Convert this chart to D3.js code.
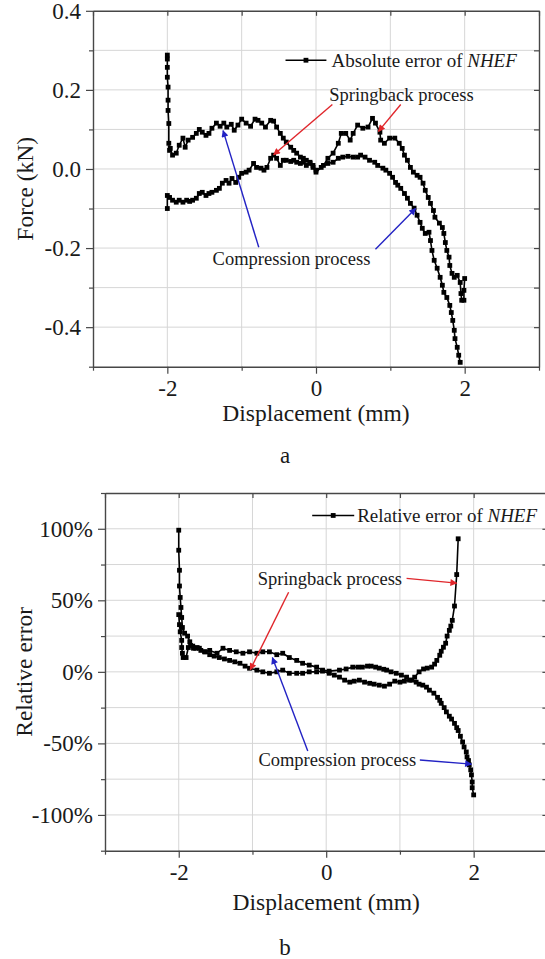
<!DOCTYPE html>
<html>
<head>
<meta charset="utf-8">
<script src="https://cdn.jsdelivr.net/npm/d3@7"></script>
<style>
  body { margin: 0; background: #fff; }
  text { font-family: "Liberation Serif", "Times New Roman", serif; }
</style>
</head>
<body>
<svg id="chart" width="545" height="959"></svg>
<script>
// ---- panel a: absolute error (kN) vs displacement (mm) ----
const forceCompression = [
  [-2.00,0.288],[-2.00,0.278],[-2.00,0.257],[-2.00,0.232],[-1.99,0.207],[-1.99,0.174],[-1.99,0.148],[-1.98,0.115],
  [-1.98,0.065],[-1.97,0.047],[-1.96,0.052],[-1.93,0.035],[-1.88,0.040],[-1.84,0.060],[-1.79,0.078],[-1.76,0.055],
  [-1.72,0.073],[-1.66,0.080],[-1.61,0.090],[-1.57,0.100],[-1.53,0.093],[-1.48,0.085],[-1.44,0.090],[-1.40,0.103],
  [-1.34,0.116],[-1.29,0.108],[-1.24,0.116],[-1.20,0.106],[-1.14,0.113],[-1.10,0.098],[-1.05,0.111],[-1.00,0.126],
  [-0.94,0.116],[-0.88,0.108],[-0.82,0.126],[-0.78,0.123],[-0.73,0.116],[-0.68,0.106],[-0.61,0.123],[-0.57,0.121],
  [-0.53,0.106],[-0.48,0.090],[-0.44,0.078],[-0.40,0.068],[-0.34,0.055],[-0.30,0.047],[-0.26,0.040],[-0.21,0.030],
  [-0.17,0.027],[-0.13,0.022],[-0.08,0.017],[-0.04,0.009],[0.00,-0.003],[0.07,0.004],[0.16,0.014],[0.23,0.017],
  [0.30,0.027],[0.36,0.030],[0.43,0.032],[0.50,0.030],[0.56,0.030],[0.60,0.035],[0.66,0.030],[0.72,0.022],
  [0.79,0.017],[0.83,0.009],[0.90,0.002],[0.94,-0.003],[0.99,-0.011],[1.03,-0.021],[1.07,-0.034],[1.10,-0.041],
  [1.14,-0.049],[1.19,-0.062],[1.23,-0.074],[1.27,-0.087],[1.32,-0.099],[1.36,-0.117],[1.40,-0.135],[1.43,-0.150],
  [1.47,-0.163],[1.52,-0.160],[1.54,-0.181],[1.56,-0.206],[1.59,-0.231],[1.63,-0.251],[1.67,-0.274],[1.70,-0.294],
  [1.72,-0.312],[1.76,-0.325],[1.80,-0.345],[1.82,-0.363],[1.84,-0.383],[1.86,-0.408],[1.87,-0.429],[1.90,-0.451],
  [1.92,-0.471],[1.94,-0.489]
];
const forceSpringback = [
  [-2.00,-0.100],[-2.00,-0.067],[-1.97,-0.072],[-1.93,-0.079],[-1.88,-0.084],[-1.84,-0.079],[-1.79,-0.084],[-1.74,-0.079],
  [-1.70,-0.082],[-1.66,-0.079],[-1.61,-0.074],[-1.57,-0.062],[-1.53,-0.059],[-1.48,-0.067],[-1.44,-0.062],[-1.40,-0.059],
  [-1.34,-0.054],[-1.30,-0.049],[-1.26,-0.036],[-1.21,-0.029],[-1.17,-0.036],[-1.13,-0.024],[-1.08,-0.034],[-1.04,-0.021],
  [-1.00,-0.011],[-0.94,-0.008],[-0.90,-0.003],[-0.84,0.014],[-0.80,0.004],[-0.74,0.002],[-0.70,-0.003],[-0.66,0.004],
  [-0.61,0.027],[-0.57,0.035],[-0.53,0.027],[-0.48,0.009],[-0.44,0.022],[-0.40,0.022],[-0.34,0.019],[-0.30,0.022],
  [-0.26,0.017],[-0.21,0.014],[-0.17,0.017],[-0.13,0.009],[-0.08,0.014],[-0.04,0.004],[0.00,-0.008],[0.10,0.009],
  [0.16,0.027],[0.23,0.040],[0.30,0.065],[0.34,0.090],[0.40,0.090],[0.46,0.073],[0.50,0.090],[0.56,0.111],
  [0.63,0.103],[0.70,0.106],[0.76,0.128],[0.80,0.116],[0.86,0.093],[0.87,0.073],[0.92,0.065],[0.99,0.078],
  [1.06,0.078],[1.12,0.065],[1.16,0.052],[1.19,0.035],[1.23,0.022],[1.27,0.004],[1.31,-0.008],[1.36,-0.016],
  [1.40,-0.021],[1.44,-0.036],[1.47,-0.054],[1.51,-0.072],[1.54,-0.087],[1.58,-0.105],[1.60,-0.122],[1.66,-0.137],
  [1.70,-0.148],[1.72,-0.163],[1.74,-0.186],[1.76,-0.206],[1.79,-0.223],[1.80,-0.244],[1.83,-0.264],[1.86,-0.274],
  [1.90,-0.269],[1.94,-0.287],[1.95,-0.315],[1.96,-0.332],[1.99,-0.332],[1.99,-0.307],[2.00,-0.277]
];
const forceTicks = [-0.4, -0.2, 0.0, 0.2, 0.4];
const forceMinorTicks = [-0.5, -0.3, -0.1, 0.1, 0.3];

// ---- panel b: relative error (%) vs displacement (mm) ----
const relCompression = [
  [-2.00,99],[-2.00,85],[-1.99,71],[-1.99,60],[-1.98,52],[-1.97,45],[-1.96,38],[-1.95,31],[-1.92,27],[-1.88,25],
  [-1.85,21],[-1.81,18],[-1.77,16.5],[-1.72,16.5],[-1.65,14],[-1.58,15],[-1.48,13],[-1.40,16.5],[-1.31,15],[-1.22,14],
  [-1.13,13],[-1.04,14],[-0.94,13],[-0.86,14],[-0.77,14],[-0.67,12],[-0.59,13],[-0.50,10],[-0.40,8],[-0.32,6],
  [-0.23,4.7],[-0.13,3.3],[-0.05,1.2],[0.04,0.5],[0.18,1.2],[0.27,2],[0.36,3.3],[0.43,3.3],[0.49,3.3],[0.56,4],
  [0.61,4],[0.67,3.3],[0.72,2.6],[0.78,1.8],[0.82,1.2],[0.88,0],[0.95,-1],[1.02,-2.3],[1.09,-3.7],[1.16,-5.8],
  [1.22,-7.2],[1.26,-8.6],[1.31,-9.3],[1.36,-10.7],[1.40,-12.8],[1.46,-14.9],[1.51,-17.8],[1.54,-19.9],[1.56,-22],[1.60,-25],
  [1.63,-28],[1.67,-31],[1.70,-33],[1.74,-36],[1.77,-39],[1.79,-41],[1.82,-45],[1.85,-49],[1.87,-52.5],[1.90,-56],
  [1.91,-59.5],[1.93,-62],[1.94,-65],[1.96,-68.5],[1.97,-72],[1.98,-77],[1.98,-81],[2.00,-86]
];
const relSpringback = [
  [-2.00,40],[-1.99,33],[-1.98,28],[-1.96,22],[-1.96,17],[-1.95,13],[-1.94,10],[-1.90,10],[-1.87,17],[-1.84,18.5],
  [-1.80,16.5],[-1.75,17],[-1.70,15],[-1.64,14],[-1.58,12],[-1.52,11],[-1.45,10],[-1.38,9],[-1.31,8],[-1.24,7],
  [-1.17,6],[-1.10,4],[-1.04,2.5],[-0.94,1.2],[-0.86,0],[-0.77,-1],[-0.67,0],[-0.59,1.2],[-0.50,-1],[-0.40,-1],
  [-0.32,-1],[-0.23,0],[-0.13,0],[-0.05,0.5],[0.04,-1],[0.11,-2.3],[0.18,-3.7],[0.25,-5.8],[0.32,-7.2],[0.38,-6.5],
  [0.45,-5.8],[0.52,-7.2],[0.59,-8],[0.65,-8.6],[0.72,-9.3],[0.79,-10],[0.86,-8.6],[0.93,-6.5],[1.00,-7.2],[1.06,-6.5],
  [1.13,-5.8],[1.20,-3.7],[1.26,0],[1.32,2],[1.37,2.6],[1.43,3.3],[1.47,5.4],[1.50,8],[1.54,11.6],[1.56,14.4],
  [1.59,17.2],[1.62,20],[1.64,25],[1.67,29],[1.69,32],[1.71,36],[1.74,46],[1.77,68],[1.79,93]
];
const relTicks = [-100, -50, 0, 50, 100];
const relMinorTicks = [-125, -75, -25, 25, 75, 125];

const dispTicks = [-2, 0, 2];
const dispMinorTicks = [-3, -1, 1, 3];
const dispGrid = [-2, -1, 0, 1, 2];

const svg = d3.select("#chart");
svg.append("rect").attr("width", 545).attr("height", 959).attr("fill", "#fff");

const axisColor = "#474747";
const gridColor = "#d6d6d6";
const arrowColors = { red: "#e0262b", blue: "#2323c4" };

// arrow heads
const defs = svg.append("defs");
Object.entries(arrowColors).forEach(([name, col]) => {
  defs.append("marker")
    .attr("id", "head-" + name)
    .attr("viewBox", "0 0 10 10")
    .attr("refX", 9).attr("refY", 5)
    .attr("markerWidth", 10).attr("markerHeight", 7)
    .attr("markerUnits", "userSpaceOnUse")
    .attr("orient", "auto")
    .append("path")
    .attr("d", "M0,0 L10,5 L0,10 z")
    .attr("fill", col);
});

function drawPanel(cfg) {
  const x = d3.scaleLinear().domain([-3, 3]).range(cfg.xRange);
  const y = d3.scaleLinear().domain(cfg.yDomain).range(cfg.yRange);
  const [x0, x1] = cfg.xRange;
  const [yb, yt] = cfg.yRange;
  const g = svg.append("g");

  // grid
  g.append("g").selectAll("line").data(dispGrid).join("line")
    .attr("x1", d => x(d)).attr("x2", d => x(d))
    .attr("y1", yb).attr("y2", yt)
    .attr("stroke", gridColor).attr("stroke-width", 1);
  g.append("g").selectAll("line").data(cfg.yGrid).join("line")
    .attr("x1", x0).attr("x2", x1)
    .attr("y1", d => y(d)).attr("y2", d => y(d))
    .attr("stroke", gridColor).attr("stroke-width", 1);

  const styleAxis = sel => {
    sel.selectAll("path.domain").attr("stroke", axisColor).attr("stroke-width", 1.4);
    sel.selectAll(".tick line").attr("stroke", axisColor).attr("stroke-width", 1.2);
    sel.selectAll(".tick text")
      .attr("fill", "#1a1a1a")
      .style("font-family", '"Liberation Serif", serif')
      .style("font-size", "23px");
  };

  // left axis
  g.append("g").attr("transform", `translate(${x0},0)`)
    .call(d3.axisLeft(y).tickValues(cfg.yTicks).tickSize(7).tickSizeOuter(0)
      .tickPadding(5).tickFormat(cfg.yFormat))
    .call(styleAxis);
  g.append("g").attr("transform", `translate(${x0},0)`)
    .call(d3.axisLeft(y).tickValues(cfg.yMinor).tickSize(4).tickFormat(""))
    .call(s => s.select("path.domain").remove())
    .call(styleAxis);

  // bottom axis
  g.append("g").attr("transform", `translate(0,${yb})`)
    .call(d3.axisBottom(x).tickValues(dispTicks).tickSize(7).tickSizeOuter(0)
      .tickPadding(6).tickFormat(d => String(d)))
    .call(styleAxis);
  g.append("g").attr("transform", `translate(0,${yb})`)
    .call(d3.axisBottom(x).tickValues(dispMinorTicks).tickSize(4).tickFormat(""))
    .call(s => s.select("path.domain").remove())
    .call(styleAxis);

  // top and right frame with inward ticks
  g.append("g").attr("transform", `translate(0,${yt})`)
    .call(d3.axisTop(x).tickValues([-3, -2, -1, 0, 1, 2, 3]).tickSize(-5).tickSizeOuter(0).tickFormat(""))
    .call(styleAxis);
  g.append("g").attr("transform", `translate(${x1},0)`)
    .call(d3.axisRight(y).tickValues(cfg.yGrid).tickSize(-5).tickSizeOuter(0).tickFormat(""))
    .call(styleAxis);

  // series
  const line = d3.line().x(d => x(d[0])).y(d => y(d[1]));
  cfg.series.forEach(s => {
    g.append("path").datum(s)
      .attr("d", line)
      .attr("fill", "none")
      .attr("stroke", "#000")
      .attr("stroke-width", 1.6)
      .attr("stroke-linejoin", "round");
    g.append("g").selectAll("rect").data(s).join("rect")
      .attr("x", d => x(d[0]) - 2.4).attr("y", d => y(d[1]) - 2.4)
      .attr("width", 4.8).attr("height", 4.8)
      .attr("fill", "#000");
  });

  // legend
  const lg = cfg.legend;
  g.append("line")
    .attr("x1", x(lg.x0)).attr("x2", x(lg.x1))
    .attr("y1", y(lg.y)).attr("y2", y(lg.y))
    .attr("stroke", "#000").attr("stroke-width", 1.6);
  g.append("rect")
    .attr("x", x((lg.x0 + lg.x1) / 2) - 2.4).attr("y", y(lg.y) - 2.4)
    .attr("width", 4.8).attr("height", 4.8).attr("fill", "#000");
  const lt = g.append("text")
    .attr("x", x(lg.tx)).attr("y", y(lg.ty))
    .attr("fill", "#1a1a1a")
    .style("font-size", "19px");
  lt.append("tspan").text(lg.text + " ");
  lt.append("tspan").style("font-style", "italic").text("NHEF");

  // annotations
  cfg.notes.forEach(n => {
    g.append("text")
      .attr("x", x(n.tx)).attr("y", y(n.ty))
      .attr("text-anchor", "middle")
      .attr("fill", "#1a1a1a")
      .style("font-size", "18.5px")
      .text(n.text);
    n.arrows.forEach(a => {
      g.append("line")
        .attr("x1", x(a[0])).attr("y1", y(a[1]))
        .attr("x2", x(a[2])).attr("y2", y(a[3]))
        .attr("stroke", arrowColors[n.color])
        .attr("stroke-width", 1.4)
        .attr("marker-end", `url(#head-${n.color})`);
    });
  });

  // axis titles
  g.append("text")
    .attr("x", (x0 + x(3)) / 2).attr("y", cfg.xTitleY)
    .attr("text-anchor", "middle")
    .attr("fill", "#1a1a1a")
    .style("font-size", "23.5px")
    .text("Displacement (mm)");
  g.append("text")
    .attr("transform", `translate(${cfg.yTitleX},${(yb + yt) / 2}) rotate(-90)`)
    .attr("text-anchor", "middle")
    .attr("fill", "#1a1a1a")
    .style("font-size", "23.5px")
    .text(cfg.yTitle);

  // panel letter
  g.append("text")
    .attr("x", 285).attr("y", cfg.labelY)
    .attr("text-anchor", "middle")
    .attr("fill", "#1a1a1a")
    .style("font-size", "23px")
    .text(cfg.label);
}

drawPanel({
  xRange: [93, 539],
  yDomain: [-0.5, 0.4],
  yRange: [366.7, 10.8],
  yTicks: forceTicks,
  yMinor: forceMinorTicks,
  yGrid: [-0.4, -0.3, -0.2, -0.1, 0, 0.1, 0.2, 0.3],
  yFormat: d => d.toFixed(1),
  series: [forceCompression, forceSpringback],
  legend: { x0: -0.41, x1: 0.14, y: 0.275, tx: 0.21, ty: 0.259, text: "Absolute error of" },
  notes: [
    { text: "Springback process", tx: 1.15, ty: 0.172, color: "red",
      arrows: [[0.22, 0.163, -0.57, 0.036], [1.14, 0.163, 0.84, 0.095]] },
    { text: "Compression process", tx: -0.33, ty: -0.243, color: "blue",
      arrows: [[-0.77, -0.198, -1.25, 0.097], [0.80, -0.203, 1.34, -0.100]] }
  ],
  yTitle: "Force (kN)",
  yTitleX: 33,
  xTitleY: 421,
  label: "a",
  labelY: 463
});

drawPanel({
  xRange: [105, 547.4],
  yDomain: [-125, 125],
  yRange: [850.7, 493],
  yTicks: relTicks,
  yMinor: relMinorTicks,
  yGrid: [-100, -75, -50, -25, 0, 25, 50, 75, 100],
  yFormat: d => d + "%",
  series: [relCompression, relSpringback],
  legend: { x0: -0.19, x1: 0.38, y: 109.3, tx: 0.42, ty: 105, text: "Relative error of" },
  notes: [
    { text: "Springback process", tx: 0.05, ty: 60.5, color: "red",
      arrows: [[1.09, 65.3, 1.77, 62], [-0.51, 55.6, -1.03, 1.5]] },
    { text: "Compression process", tx: 0.15, ty: -66, color: "blue",
      arrows: [[1.27, -61.6, 1.97, -64.5], [-0.25, -55.3, -0.73, 10]] }
  ],
  yTitle: "Relative error",
  yTitleX: 32,
  xTitleY: 910,
  label: "b",
  labelY: 955
});
</script>
</body>
</html>
